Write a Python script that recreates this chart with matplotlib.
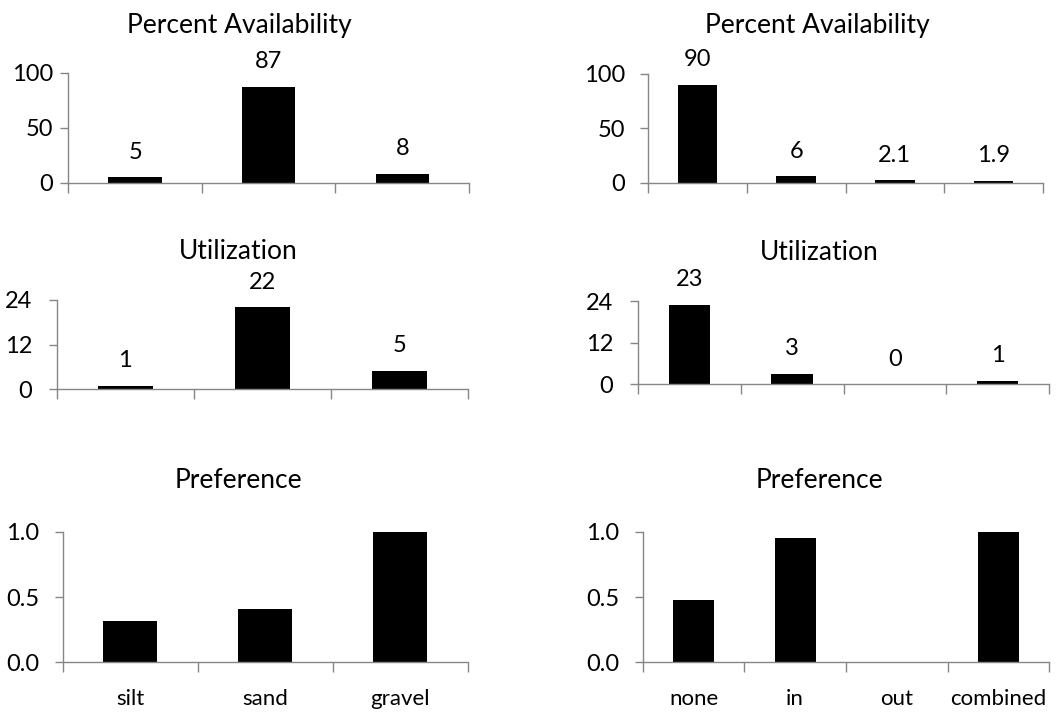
import matplotlib
matplotlib.use("Agg")
import matplotlib.pyplot as plt
from matplotlib.ticker import FormatStrFormatter

plt.rcParams['font.family'] = ['Lato', 'DejaVu Sans']

# categories
cats_left = ['silt', 'sand', 'gravel']
cats_right = ['none', 'in', 'out', 'combined']

# values
avail_left = [5, 87, 8]
avail_right = [90, 6, 2.1, 1.9]
util_left = [1, 22, 5]
util_right = [23, 3, 0, 1]
pref_left = [0.32, 0.41, 1.0]
pref_right = [0.48, 0.95, 0.0, 1.0]

avail_ticks = [0, 50, 100]
util_ticks = [0, 12, 24]
pref_ticks = [0.0, 0.5, 1.0]

W, H = 1062, 713
fig = plt.figure(figsize=(W / 100, H / 100), dpi=100)
grey = '#868686'


def panel(box, title, title_xy, cats, vals, ticks, labels=True, xnames=False,
          ypad=11, fmt=None):
    # box = (left, top, right, bottom) in pixels
    l, t, r, b = box
    ax = fig.add_axes([l / W, 1 - b / H, (r - l) / W, (b - t) / H])
    x = list(range(len(cats)))
    ax.bar(x, vals, width=0.4, color='black')
    ax.set_xlim(-0.5, len(cats) - 0.5)
    ax.set_ylim(ticks[0], ticks[-1])
    ax.set_yticks(ticks)
    if fmt:
        ax.yaxis.set_major_formatter(FormatStrFormatter(fmt))
    ax.set_xticks([i - 0.5 for i in range(len(cats) + 1)])
    ax.set_xticklabels([])
    if xnames:
        ax.set_xticks(x, minor=True)
        ax.set_xticklabels(cats, minor=True)
        ax.tick_params(axis='x', which='minor', length=0, pad=19, labelsize=16)
    ax.tick_params(axis='x', which='major', length=7.2, width=1, color=grey,
                   direction='out')
    ax.tick_params(axis='y', length=5.8, width=1, color=grey, pad=ypad,
                   labelsize=17, direction='out')
    for s in ['top', 'right']:
        ax.spines[s].set_visible(False)
    for s in ['left', 'bottom']:
        ax.spines[s].set_color(grey)
        ax.spines[s].set_linewidth(1)
    if labels:
        for xi, v in zip(x, vals):
            ax.annotate(f'{v:g}', (xi, v), xytext=(0, 25), textcoords='offset pixels',
                        ha='center', va='center', fontsize=17, annotation_clip=False)
    fig.text(title_xy[0] / W, 1 - title_xy[1] / H, title, ha='center', va='center',
             fontsize=19)
    return ax


panel((68.3, 72.7, 469, 182.7), 'Percent Availability', (239.3, 25),
      cats_left, avail_left, avail_ticks, ypad=5)
panel((648.3, 74, 1042.7, 182.7), 'Percent Availability', (817.3, 25),
      cats_right, avail_right, avail_ticks)
panel((56.7, 300, 467.7, 389.3), 'Utilization', (238, 251.7),
      cats_left, util_left, util_ticks, ypad=12)
panel((637.7, 301.3, 1049.3, 384.3), 'Utilization', (819.3, 253),
      cats_right, util_right, util_ticks, ypad=12)
panel((62.7, 531.7, 467.7, 662.3), 'Preference', (238.3, 481),
      cats_left, pref_left, pref_ticks, labels=False, xnames=True, fmt='%.1f')
panel((642.7, 531.7, 1049.3, 662.3), 'Preference', (819.3, 481),
      cats_right, pref_right, pref_ticks, labels=False, xnames=True, fmt='%.1f')

fig.savefig('out.png', dpi=100)
